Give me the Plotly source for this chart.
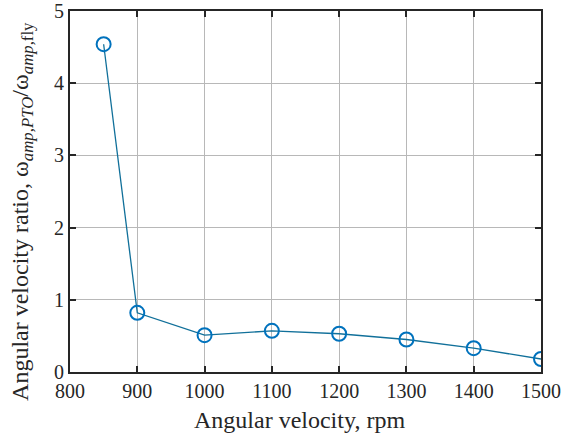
import plotly.graph_objects as go

rpm = [850, 900, 1000, 1100, 1200, 1300, 1400, 1500]
ratio = [4.54, 0.82, 0.51, 0.57, 0.53, 0.45, 0.33, 0.18]
x_ticks = [800, 900, 1000, 1100, 1200, 1300, 1400, 1500]
y_ticks = [0, 1, 2, 3, 4, 5]

fig = go.Figure()
fig.add_trace(go.Scatter(
    x=rpm, y=ratio, mode="lines+markers",
    line=dict(color="#11709a", width=1.3),
    marker=dict(symbol="circle-open", size=14, color="#0072BD", line=dict(width=2, color="#0072BD")),
    showlegend=False,
))

family = "Liberation Serif, Times New Roman, serif"
tick_font = dict(family=family, size=20, color="#262626")
title_font = dict(family=family, size=24, color="#262626")
axis_common = dict(
    showline=True, linecolor="#262626", linewidth=2, mirror="ticks",
    ticks="inside", ticklen=6, tickcolor="#262626", tickwidth=1.5,
    showgrid=True, gridcolor="#b8b8b8", gridwidth=1, zeroline=False,
    tickfont=tick_font, automargin=False,
)
fig.update_xaxes(range=[800, 1500], tickvals=x_ticks, **axis_common)
fig.update_yaxes(range=[0, 5], tickvals=y_ticks, **axis_common)

fig.add_annotation(text="Angular velocity, rpm", xref="paper", yref="paper",
                   x=0.488, y=-0.133, xanchor="center", yanchor="middle",
                   showarrow=False, font=title_font)
fig.add_annotation(text="Angular velocity ratio, ω<sub><i>amp,PTO</i></sub>/ω<sub><i>amp,</i>fly</sub>",
                   xref="paper", yref="paper", x=-0.102, y=0.446,
                   xanchor="center", yanchor="middle", textangle=-90,
                   showarrow=False, font=title_font)

fig.update_layout(
    width=572, height=438,
    margin=dict(l=70, r=31, t=11, b=66),
    plot_bgcolor="white", paper_bgcolor="white",
    font=tick_font,
)
fig.write_html("out.html", config={"displayModeBar": False},
               post_script="document.body.style.margin='0';")
